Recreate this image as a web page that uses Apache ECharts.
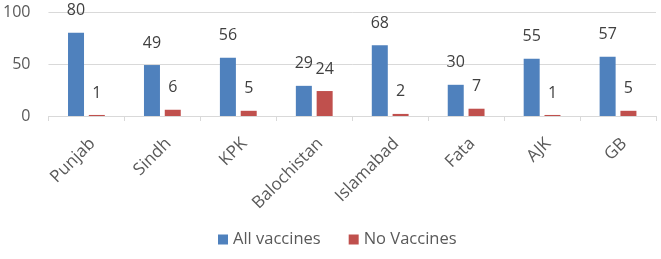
<!DOCTYPE html>
<html>
<head>
<meta charset="utf-8">
<script src="https://cdn.jsdelivr.net/npm/echarts@6/dist/echarts.min.js"></script>
<style>
  html, body { margin: 0; padding: 0; background: #fff; }
  #chart { width: 661px; height: 259px; }
</style>
</head>
<body>
<div id="chart"></div>
<script>
// ---------------------- Data ----------------------
let regions = ['Punjab', 'Sindh', 'KPK', 'Balochistan', 'Islamabad', 'Fata', 'AJK', 'GB'];
let all_vaccines = [80, 49, 56, 29, 68, 30, 55, 57];
let no_vaccines = [1, 6, 5, 24, 2, 7, 1, 5];
let y_ticks = [0, 50, 100];

let font_family = '"Open Sans", "Noto Sans", sans-serif';
let text_color = '#404040';

// Get dom and init
let vacc_chart = echarts.init(document.getElementById('chart'));

let value_label = {
    show: true,
    position: 'top',
    distance: 14,
    color: text_color,
    fontSize: 16,
    fontFamily: font_family
};

let vacc_chart_option = {
    backgroundColor: '#ffffff',
    animation: false,
    grid: {left: 48, right: 5, top: 12, bottom: 143},
    legend: {
        bottom: 6,
        left: 213,
        itemWidth: 10,
        itemHeight: 10,
        itemGap: 28,
        icon: 'rect',
        textStyle: {color: '#595959', fontSize: 16.5, fontFamily: font_family},
        data: ['All vaccines', 'No Vaccines']
    },
    xAxis: {
        type: 'category',
        data: regions,
        axisLine: {lineStyle: {color: '#d9d9d9'}},
        axisTick: {show: true, length: 5, lineStyle: {color: '#d9d9d9'}},
        axisLabel: {rotate: 45, color: '#595959', fontSize: 17, fontFamily: font_family,
                    margin: 19, verticalAlign: 'top'}
    },
    yAxis: {
        type: 'value',
        min: y_ticks[0],
        max: y_ticks[y_ticks.length - 1],
        interval: 50,
        axisLine: {show: false},
        axisTick: {show: false},
        splitLine: {lineStyle: {color: '#d9d9d9'}},
        axisLabel: {color: '#595959', fontSize: 16, fontFamily: font_family, margin: 18}
    },
    series: [
        {
            name: 'All vaccines',
            type: 'bar',
            data: all_vaccines,
            barWidth: 16,
            barGap: '30%',
            itemStyle: {color: '#4f81bd'},
            label: value_label
        },
        {
            name: 'No Vaccines',
            type: 'bar',
            data: no_vaccines,
            barWidth: 16,
            itemStyle: {color: '#c0504d'},
            label: value_label
        }
    ]
};
vacc_chart.setOption(vacc_chart_option, true);
</script>
</body>
</html>
